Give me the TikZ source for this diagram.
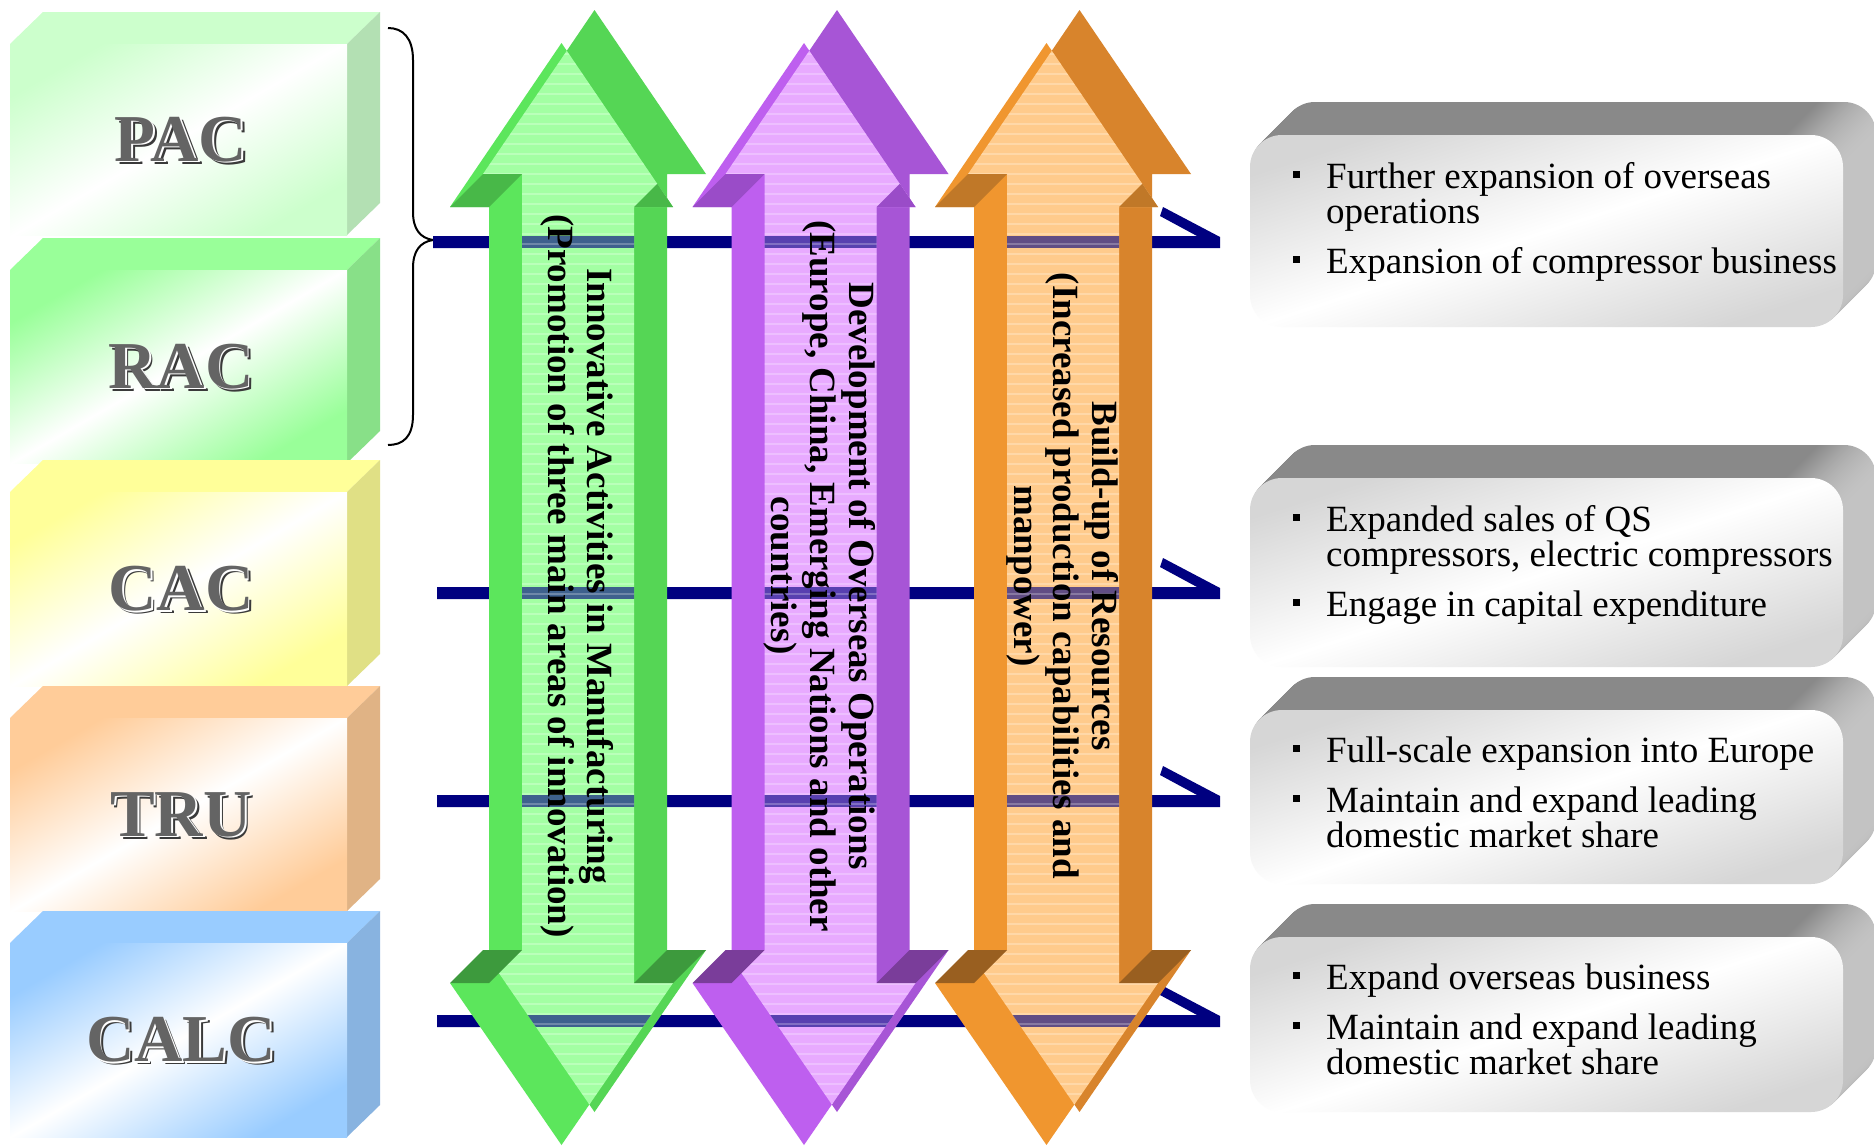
\documentclass[tikz,border=0pt]{standalone}
\usepackage{fontspec}
\setmainfont{Liberation Serif}
\usetikzlibrary{calc}
\definecolor{navyline}{HTML}{000080}
\definecolor{lgray}{HTML}{646464}
\definecolor{lshadow}{HTML}{3A3A3A}
\definecolor{rtop}{HTML}{898989}
\definecolor{rside}{HTML}{C4C4C4}
\definecolor{rfront}{HTML}{D6D6D6}
% left boxes
\definecolor{pacF}{HTML}{CCFFCC}\definecolor{pacS}{HTML}{B3E0B3}
\definecolor{racF}{HTML}{99FF99}\definecolor{racS}{HTML}{88E088}
\definecolor{cacF}{HTML}{FFFF99}\definecolor{cacS}{HTML}{E0E085}
\definecolor{truF}{HTML}{FFCC99}\definecolor{truS}{HTML}{E0B385}
\definecolor{calF}{HTML}{99CCFF}\definecolor{calS}{HTML}{88B3E0}
% arrows
\definecolor{gSide}{HTML}{55D655}\definecolor{gBev}{HTML}{5CE65C}\definecolor{gLight}{HTML}{A3FFA3}
\definecolor{gDT}{HTML}{48B848}\definecolor{gDB}{HTML}{3D9A3D}
\definecolor{pSide}{HTML}{A755D6}\definecolor{pBev}{HTML}{BE5FEF}\definecolor{pLight}{HTML}{E8AAFF}
\definecolor{pDT}{HTML}{9A4CC8}\definecolor{pDB}{HTML}{7A3D9A}
\definecolor{oSide}{HTML}{D8842C}\definecolor{oBev}{HTML}{F0962F}\definecolor{oLight}{HTML}{FFCB8C}
\definecolor{oDT}{HTML}{C07828}\definecolor{oDB}{HTML}{995F20}

\pgfdeclarehorizontalshading{sidegray}{100bp}{color(0bp)=(rtop); color(25bp)=(rtop); color(70bp)=(rtop); color(75bp)=(rside); color(100bp)=(rside)}

\tikzset{
  lbl/.style={font=\fontsize{67}{67}\selectfont\bfseries, inner sep=0},
  rtxt/.style={font=\fontsize{37}{35}\selectfont, inner sep=0, anchor=base west},
  bul/.style={inner sep=0, anchor=base west},
  atxt/.style={font=\fontsize{37}{39}\selectfont\bfseries, rotate=-90, align=center, inner sep=0},
}

\newcommand\lbox[7]{% name, front top, front bottom, front colour, top colour, side colour, label
  \fill[#5] (10,#2) -- (43,#2-32) -- (380,#2-32) -- (347,#2) -- cycle;
  \fill[#6] (347,#2) -- (380,#2-32) -- (380,#3-32) -- (347,#3) -- cycle;
  \shade[top color=#4, bottom color=#4, middle color=white, shading angle=30] (10,#2) rectangle (347,#3);
  \node[lbl, text=lshadow] (#1s) at (184.5,{(#2+#3)/2+3}) {#7};
  \node[lbl, text=white] (#1w) at (182.8,{(#2+#3)/2+1.3}) {#7};
  \node[lbl, text=lgray] (#1) at (181,{(#2+#3)/2}) {#7};
}

\newcommand\bline[3]{% name, y, x start
  \coordinate (#1s) at (#3,#2);
  \coordinate (#1e) at (1220,#2);
  \fill[navyline] ($(#1s)+(0,-6)$) -- ($(#1e)+(-23,-6)$) -- ($(#1e)+(-60,-26)$) -- ($(#1e)+(-57,-35)$)
     -- ($(#1e)+(0,-5)$) -- ($(#1e)+(0,6)$) -- ($(#1s)+(0,6)$) -- cycle;
}

\newcommand\rbox[3]{% name, front top, front bottom
  \foreach \k in {33,32,...,1} {\shade[shading=sidegray, rounded corners=32] (1250+\k,#2-\k) rectangle (1843+\k,#3-\k);}
  \shade[rounded corners=32, top color=rfront, bottom color=rfront, middle color=white, shading angle=18] (1250,#2) rectangle (1843,#3);
  \node[inner sep=0, anchor=north west, minimum width=593, minimum height=#3-#2] (#1) at (1250,#2) {};
}

\newcommand\Fpath[1]{(#1,43) -- (#1+111.5,207) -- (#1+72.5,207) -- (#1+72.5,983) -- (#1+111.5,983) -- (#1,1145) -- (#1-111.5,983) -- (#1-72.5,983) -- (#1-72.5,207) -- (#1-111.5,207) -- cycle}

\newcommand\barrow[8]{% name, cx, side, bevel, light, dark top, dark bottom, text
  \fill[#3, shift={(33,-33)}] \Fpath{#2};
  \fill[#4] \Fpath{#2};
  \begin{scope}
    \clip \Fpath{#2};
    \clip[shift={(33,-33)}] \Fpath{#2};
    \fill[#5] (#2-150,0) rectangle (#2+150,1146);
    \foreach \ln in {L1,L2,L3,L4} {\fill[navyline, opacity=0.62] ($(\ln s)+(0,-6)$) rectangle ($(\ln e)+(0,6)$);}
    \foreach \yy in {14,24,...,1144} {\draw[white, opacity=0.25, line width=1.2] (#2-150,\yy) -- (#2+150,\yy);}
  \end{scope}
  \fill[#6] (#2-111.5,207) -- (#2-78.5,174) -- (#2-39.5,174) -- (#2-72.5,207) -- cycle;
  \fill[#6] (#2+72.5,207) -- (#2+95.8,183.7) -- (#2+111.5,207) -- cycle;
  \fill[#7] (#2-111.5,983) -- (#2-78.5,950) -- (#2-39.5,950) -- (#2-72.5,983) -- cycle;
  \fill[#7] (#2+72.5,983) -- (#2+105.5,950) -- (#2+144.5,950) -- (#2+111.5,983) -- cycle;
  \node[atxt] (#1) at (#2+16,576) {#8};
}

\begin{document}
\begin{tikzpicture}[x=1pt,y=-1pt]
\useasboundingbox (0,0) rectangle (1874,1146);
\fill[white] (0,0) rectangle (1874,1146);

% left boxes
\lbox{pac}{44}{235}{pacF}{pacF}{pacS}{PAC}
\lbox{rac}{270}{463}{racF}{racF}{racS}{RAC}
\lbox{cac}{492}{686}{cacF}{cacF}{cacS}{CAC}
\lbox{tru}{718}{911}{truF}{truF}{truS}{TRU}
\lbox{calc}{943}{1137}{calF}{calF}{calS}{CALC}

% brace
\coordinate (bt) at (433,240);
\draw[line width=2] (388,28) .. controls (403,28) and (413,38) .. (413,60) -- (413,212)
  .. controls (413,229) and (420,238) .. (bt) .. controls (420,242) and (413,251) .. (413,268)
  -- (413,415) .. controls (413,437) and (403,445) .. (388,445);

% blue connectors
\bline{L1}{242}{433}
\bline{L2}{593}{437}
\bline{L3}{801}{437}
\bline{L4}{1021}{437}

% right boxes
\rbox{r1}{135}{327}
\rbox{r2}{478}{667}
\rbox{r3}{710}{884}
\rbox{r4}{937}{1112}

% right texts
\node[bul] (r1b1) at (1293,188) {\rule[10pt]{7pt}{7pt}};
\node[rtxt] (r1t1) at (1326,188) {Further expansion of overseas};
\node[rtxt] (r1t2) at (1326,223) {operations};
\node[bul] (r1b2) at (1293,273) {\rule[10pt]{7pt}{7pt}};
\node[rtxt] (r1t3) at (1326,273) {Expansion of compressor business};

\node[bul] (r2b1) at (1293,531) {\rule[10pt]{7pt}{7pt}};
\node[rtxt] (r2t1) at (1326,531) {Expanded sales of QS};
\node[rtxt] (r2t2) at (1326,566) {compressors, electric compressors};
\node[bul] (r2b2) at (1293,616) {\rule[10pt]{7pt}{7pt}};
\node[rtxt] (r2t3) at (1326,616) {Engage in capital expenditure};

\node[bul] (r3b1) at (1293,762) {\rule[10pt]{7pt}{7pt}};
\node[rtxt] (r3t1) at (1326,762) {Full-scale expansion into Europe};
\node[bul] (r3b2) at (1293,812) {\rule[10pt]{7pt}{7pt}};
\node[rtxt] (r3t2) at (1326,812) {Maintain and expand leading};
\node[rtxt] (r3t3) at (1326,847) {domestic market share};

\node[bul] (r4b1) at (1293,989) {\rule[10pt]{7pt}{7pt}};
\node[rtxt] (r4t1) at (1326,989) {Expand overseas business};
\node[bul] (r4b2) at (1293,1039) {\rule[10pt]{7pt}{7pt}};
\node[rtxt] (r4t2) at (1326,1039) {Maintain and expand leading};
\node[rtxt] (r4t3) at (1326,1074) {domestic market share};

% arrows
\barrow{ga}{561.5}{gSide}{gBev}{gLight}{gDT}{gDB}{Innovative Activities in Manufacturing\\(Promotion of three main areas of innovation)}
\barrow{pa}{804}{pSide}{pBev}{pLight}{pDT}{pDB}{Development of Overseas Operations\\(Europe, China, Emerging Nations and other\\countries)}
\barrow{oa}{1046.5}{oSide}{oBev}{oLight}{oDT}{oDB}{Build-up of Resources\\(Increased production capabilities and\\manpower)}
\end{tikzpicture}
\end{document}
